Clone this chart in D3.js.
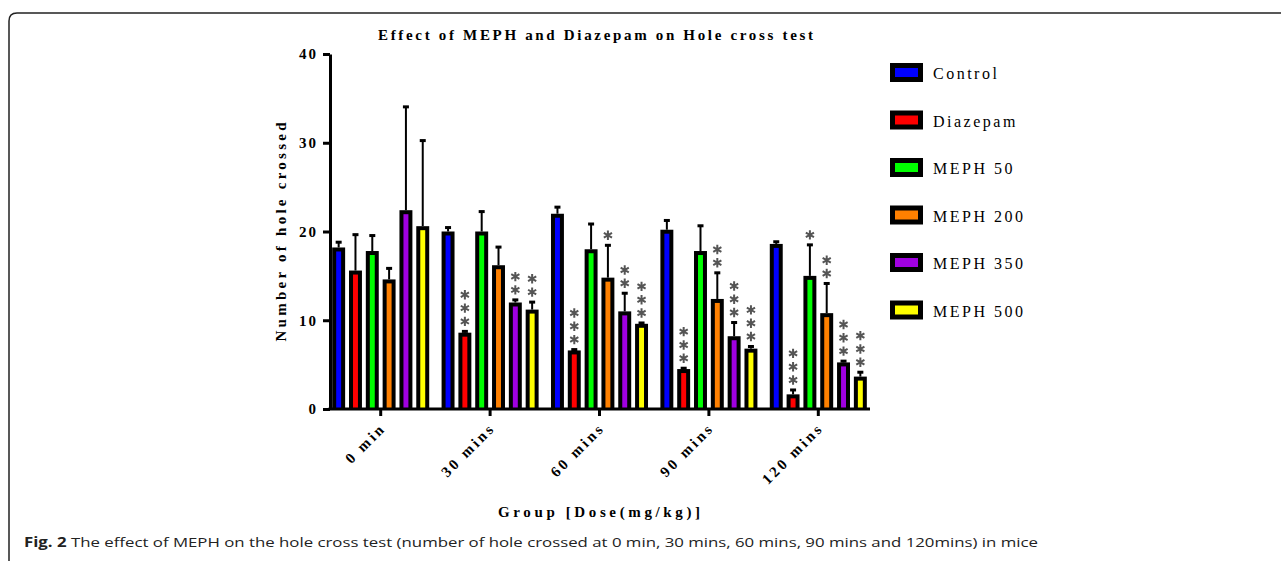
<!DOCTYPE html>
<html>
<head>
<meta charset="utf-8">
<script src="https://cdn.jsdelivr.net/npm/d3@7"></script>
<style>
  body { margin: 0; background: #fff; }
  svg { display: block; }
  .serif { font-family: "Liberation Serif", "Times New Roman", serif; }
</style>
</head>
<body>
<div id="chart"></div>
<script>
// data
var groups = ["0 min", "30 mins", "60 mins", "90 mins", "120 mins"]
var series = ["Control", "Diazepam", "MEPH 50", "MEPH 200", "MEPH 350", "MEPH 500"]
var colors = ["#0000ff", "#ff0000", "#00ff00", "#ff8000", "#a000e0", "#ffff00"]

// mean per group, one array per series
var control  = [18.2, 20.0, 22.0, 20.2, 18.6]
var diazepam = [15.6, 8.6, 6.6, 4.5, 1.65]
var meph50   = [17.8, 20.0, 18.0, 17.8, 15.0]
var meph200  = [14.6, 16.2, 14.8, 12.4, 10.8]
var meph350  = [22.4, 12.0, 11.0, 8.2, 5.25]
var meph500  = [20.6, 11.2, 9.6, 6.8, 3.65]

// SEM per group
var controlErr  = [0.65, 0.5, 0.8, 1.1, 0.3]
var diazepamErr = [4.1, 0.2, 0.15, 0.15, 0.55]
var meph50Err   = [1.8, 2.3, 2.9, 2.9, 3.55]
var meph200Err  = [1.3, 2.1, 3.7, 3.0, 3.4]
var meph350Err  = [11.7, 0.35, 2.1, 1.6, 0.2]
var meph500Err  = [9.7, 0.9, 0.15, 0.3, 0.55]

// number of significance stars
var controlStars  = [0, 0, 0, 0, 0]
var diazepamStars = [0, 3, 3, 3, 3]
var meph50Stars   = [0, 0, 0, 0, 1]
var meph200Stars  = [0, 0, 1, 2, 2]
var meph350Stars  = [0, 2, 2, 3, 3]
var meph500Stars  = [0, 2, 3, 3, 3]

var yTicks = [0, 10, 20, 30, 40]

var means = [control, diazepam, meph50, meph200, meph350, meph500]
var errs = [controlErr, diazepamErr, meph50Err, meph200Err, meph350Err, meph500Err]
var stars = [controlStars, diazepamStars, meph50Stars, meph200Stars, meph350Stars, meph500Stars]

var width = 1281, height = 561
var plotLeft = 330, plotRight = 870, plotTop = 54, plotBottom = 409

var svg = d3.select("#chart").append("svg")
  .attr("width", width)
  .attr("height", height)

// frame with rounded corner
svg.append("path")
  .attr("d", "M9,561 L9,21 Q9,13 17,13 L1281,13")
  .attr("fill", "none")
  .attr("stroke", "#222")
  .attr("stroke-width", 1.5)

var x0 = d3.scaleBand()
  .domain(groups)
  .range([326, 873])
  .paddingInner(0.113)
  .paddingOuter(0.0565)

var x1 = d3.scaleBand()
  .domain(series)
  .range([0, x0.bandwidth()])
  .paddingInner(0.23)
  .paddingOuter(0)

var y = d3.scaleLinear()
  .domain([0, 40])
  .range([plotBottom, plotTop])

// flatten
var bars = []
groups.forEach(function(g, gi) {
  series.forEach(function(s, si) {
    bars.push({
      group: g, series: s, color: colors[si],
      value: means[si][gi], err: errs[si][gi], stars: stars[si][gi]
    })
  })
})

var bw = x1.bandwidth()
var border = 4

// error bars (behind the bars)
var eb = svg.append("g")
eb.selectAll("line.err")
  .data(bars)
  .enter()
  .append("line")
  .attr("x1", d => x0(d.group) + x1(d.series) + bw / 2)
  .attr("x2", d => x0(d.group) + x1(d.series) + bw / 2)
  .attr("y1", d => y(d.value))
  .attr("y2", d => y(d.value + d.err))
  .attr("stroke", "#000")
  .attr("stroke-width", 2)
eb.selectAll("rect.cap")
  .data(bars)
  .enter()
  .append("rect")
  .attr("x", d => x0(d.group) + x1(d.series) + bw / 2 - 3)
  .attr("y", d => y(d.value + d.err) - 1)
  .attr("width", 6)
  .attr("height", 3)
  .attr("fill", "#000")

var bg = svg.append("g")
bg.selectAll("rect.outer")
  .data(bars)
  .enter()
  .append("rect")
  .attr("x", d => x0(d.group) + x1(d.series))
  .attr("y", d => y(d.value))
  .attr("width", bw)
  .attr("height", d => y(0) - y(d.value))
  .attr("fill", "#000")
bg.selectAll("rect.inner")
  .data(bars)
  .enter()
  .append("rect")
  .attr("x", d => x0(d.group) + x1(d.series) + border)
  .attr("y", d => Math.min(y(d.value) + border, y(0)))
  .attr("width", bw - 2 * border)
  .attr("height", d => Math.max(0, y(0) - y(d.value) - border))
  .attr("fill", d => d.color)

// significance stars
var starList = []
bars.forEach(function(d) {
  for (let k = 0; k < d.stars; k++) starList.push({ d: d, k: k })
})
var star = d3.symbol().type(d3.symbolAsterisk).size(62)
svg.append("g").selectAll("path")
  .data(starList)
  .enter()
  .append("path")
  .attr("d", star)
  .attr("transform", s => "translate(" + (x0(s.d.group) + x1(s.d.series) + bw / 2) + "," +
        (y(s.d.value + s.d.err) - 9.5 - s.k * 13.3) + ")")
  .attr("fill", "none")
  .attr("stroke", "#555")
  .attr("stroke-width", 2)

// y axis
var yAxis = svg.append("g")
  .attr("transform", "translate(" + plotLeft + ",0)")
  .call(d3.axisLeft(y).tickValues(yTicks).tickSize(7).tickSizeOuter(0).tickPadding(5))
yAxis.select(".domain").attr("stroke-width", 3)
yAxis.selectAll(".tick line").attr("stroke-width", 3)
yAxis.selectAll("text")
  .attr("class", "serif")
  .style("font-size", "15px")
  .style("font-weight", "bold")
  .style("letter-spacing", "2px")
  .attr("fill", "#000")

// x axis
var xAxis = svg.append("g")
  .attr("transform", "translate(0," + plotBottom + ")")
  .call(d3.axisBottom(x0).tickSize(7).tickSizeOuter(0).tickFormat(""))
xAxis.select(".domain").remove()
xAxis.selectAll(".tick line").attr("stroke-width", 3)
xAxis.append("line")
  .attr("x1", plotLeft - 1.5)
  .attr("x2", plotRight)
  .attr("y1", 0)
  .attr("y2", 0)
  .attr("stroke", "#000")
  .attr("stroke-width", 3)

svg.append("g").selectAll("text")
  .data(groups)
  .enter()
  .append("text")
  .attr("class", "serif")
  .attr("transform", d => "translate(" + (x0(d) + x0.bandwidth() / 2 + 6) + ",429) rotate(-45)")
  .attr("text-anchor", "end")
  .style("font-size", "15px")
  .style("font-weight", "bold")
  .style("letter-spacing", "2.8px")
  .text(d => d)

// titles
svg.append("text")
  .attr("class", "serif")
  .attr("x", 378)
  .attr("y", 40)
  .attr("textLength", 435)
  .attr("lengthAdjust", "spacing")
  .style("font-size", "15px")
  .style("font-weight", "bold")
  .text("Effect of MEPH and Diazepam on Hole cross test")

svg.append("text")
  .attr("class", "serif")
  .attr("transform", "translate(286,232) rotate(-90)")
  .attr("text-anchor", "middle")
  .attr("textLength", 219)
  .attr("lengthAdjust", "spacing")
  .style("font-size", "15px")
  .style("font-weight", "bold")
  .text("Number of hole crossed")

svg.append("text")
  .attr("class", "serif")
  .attr("x", 498)
  .attr("y", 517)
  .attr("textLength", 202)
  .attr("lengthAdjust", "spacing")
  .style("font-size", "15px")
  .style("font-weight", "bold")
  .text("Group [Dose(mg/kg)]")

// legend
var legend = svg.append("g").selectAll("g")
  .data(series)
  .enter()
  .append("g")
  .attr("transform", (d, i) => "translate(890," + (63 + i * 47.5) + ")")
legend.append("rect")
  .attr("width", 33).attr("height", 19).attr("fill", "#000")
legend.append("rect")
  .attr("x", 5).attr("y", 5).attr("width", 23).attr("height", 9)
  .attr("fill", (d, i) => colors[i])
legend.append("text")
  .attr("class", "serif")
  .attr("x", 43)
  .attr("y", 16)
  .style("font-size", "16px")
  .style("letter-spacing", "2.5px")
  .text(d => d)

// caption
var cap = svg.append("text")
  .attr("x", 24)
  .attr("y", 547)
  .attr("textLength", 1014)
  .attr("lengthAdjust", "spacingAndGlyphs")
  .style("font-family", "'Open Sans', sans-serif")
  .style("font-size", "13.5px")
  .attr("fill", "#222")
cap.append("tspan").style("font-weight", "bold").text("Fig. 2")
cap.append("tspan").text(" The effect of MEPH on the hole cross test (number of hole crossed at 0 min, 30 mins, 60 mins, 90 mins and 120mins) in mice")
</script>
</body>
</html>
